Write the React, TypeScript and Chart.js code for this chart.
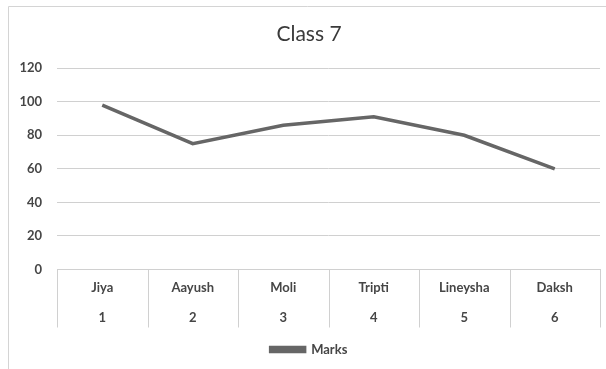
import React, { useEffect, useRef } from "react";
import { Chart, registerables } from "chart.js";

Chart.register(...registerables);

const students = ["Jiya", "Aayush", "Moli", "Tripti", "Lineysha", "Daksh"];
const rollNumbers = ["1", "2", "3", "4", "5", "6"];
const marks = [98, 75, 86, 91, 80, 60];
const yTicks = [0, 20, 40, 60, 80, 100, 120];

const TEXT = "#464646";
const GRID = "#d0d0d0";
const LINE = "#666666";
const FONT = "Lato, 'Open Sans', sans-serif";
const SEPARATOR_LENGTH = 58;

// Thin frame along the top and left of the drawing
const framePlugin = {
  id: "frame",
  beforeDraw(chart: any) {
    const { ctx, width, height } = chart;
    ctx.save();
    ctx.fillStyle = "#ffffff";
    ctx.fillRect(0, 0, width, height);
    ctx.strokeStyle = "#d4d4d4";
    ctx.lineWidth = 1;
    ctx.beginPath();
    ctx.moveTo(8.5, height);
    ctx.lineTo(8.5, 6.5);
    ctx.lineTo(width, 6.5);
    ctx.stroke();
    ctx.restore();
  },
};

// Vertical separators between the category cells below the axis
const separatorPlugin = {
  id: "separators",
  afterDraw(chart: any) {
    const scale = chart.scales.x;
    const { ctx } = chart;
    const n = scale.getLabels().length;
    ctx.save();
    ctx.strokeStyle = GRID;
    ctx.lineWidth = 1;
    ctx.beginPath();
    for (let i = 0; i <= n; i++) {
      const x = Math.round(scale.getPixelForValue(i - 0.5)) + 0.5;
      ctx.moveTo(x, scale.top);
      ctx.lineTo(x, scale.top + SEPARATOR_LENGTH);
    }
    ctx.stroke();
    ctx.restore();
  },
};

export default function App() {
  const canvasRef = useRef<HTMLCanvasElement | null>(null);

  useEffect(() => {
    if (!canvasRef.current) return;
    const chart = new Chart(canvasRef.current, {
      type: "line",
      data: {
        labels: students.map((name, i) => [name, rollNumbers[i]]),
        datasets: [
          {
            label: "Marks",
            data: marks,
            borderColor: LINE,
            backgroundColor: LINE,
            borderWidth: 3.5,
            pointRadius: 0,
            tension: 0,
          },
        ],
      },
      options: {
        responsive: false,
        animation: false,
        layout: { padding: { left: 18, right: 6, top: 0, bottom: 3 } },
        plugins: {
          title: {
            display: true,
            text: "Class 7",
            color: "#3a3a3a",
            font: { family: FONT, size: 21, weight: "normal" },
            padding: { top: 22, bottom: 21 },
          },
          legend: {
            display: true,
            position: "bottom",
            labels: {
              color: TEXT,
              font: { family: FONT, size: 13, weight: "bold" },
              boxWidth: 34,
              boxHeight: 4,
              padding: 9.5,
            },
          },
          tooltip: { enabled: false },
        },
        scales: {
          x: {
            offset: true,
            afterFit(scale: any) {
              scale.height = 64;
            },
            grid: { display: false, drawTicks: false },
            border: { display: true, color: GRID },
            ticks: {
              color: TEXT,
              font: { family: FONT, size: 13, weight: "bold", lineHeight: 30 / 13 },
              padding: 3.5,
              maxRotation: 0,
              autoSkip: false,
            },
          },
          y: {
            min: 0,
            max: 120,
            afterBuildTicks(scale: any) {
              scale.ticks = yTicks.map((v) => ({ value: v }));
            },
            afterFit(scale: any) {
              scale.width = 39;
            },
            grid: { color: GRID, drawTicks: false, lineWidth: 1 },
            border: { display: false },
            ticks: {
              color: TEXT,
              font: { family: FONT, size: 13, weight: "bold" },
              padding: 15,
            },
          },
        },
      },
      plugins: [framePlugin, separatorPlugin],
    });
    return () => chart.destroy();
  }, []);

  return (
    <div style={{ position: "fixed", left: 0, top: 0, width: 606, height: 369 }}>
      <canvas ref={canvasRef} width={606} height={369} />
    </div>
  );
}
